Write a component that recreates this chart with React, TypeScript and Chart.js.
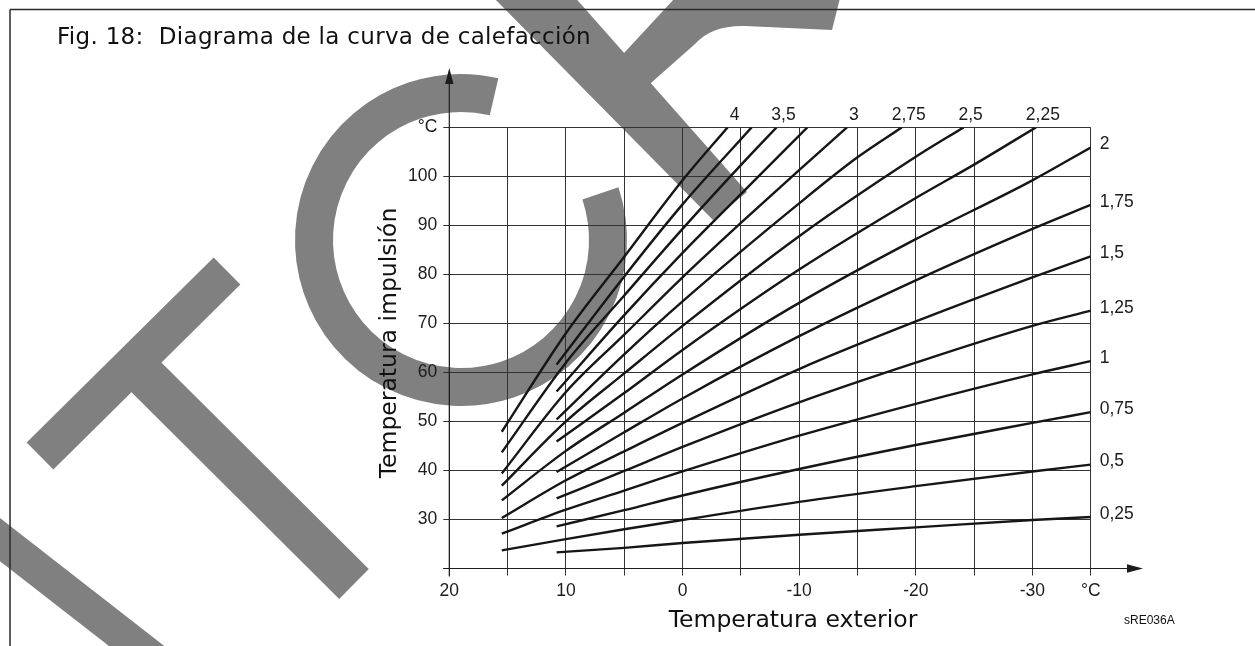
import React, { useEffect, useRef } from 'react';
import { Chart, registerables } from 'chart.js';

Chart.register(...registerables);

// ---- Data (outdoor temperature °C, flow temperature °C) ----
const slopes = [0.25, 0.5, 0.75, 1, 1.25, 1.5, 1.75, 2, 2.25, 2.5, 2.75, 3, 3.25, 3.5, 3.75, 4];
const topLabelled = [4, 3.5, 3, 2.75, 2.5, 2.25];
const rightLabelled = [2, 1.75, 1.5, 1.25, 1, 0.75, 0.5, 0.25];

const curve_0_25 = [[10.8, 23.3], [5, 24.2], [0, 25.2], [-10, 26.9], [-20, 28.4], [-30, 29.9], [-35, 30.5]];
const curve_0_5 = [[15.5, 23.7], [10, 26.0], [5, 28.0], [0, 29.9], [-10, 33.6], [-20, 36.8], [-30, 39.8], [-35, 41.2]];
const curve_0_75 = [[10.8, 28.6], [5, 31.9], [0, 34.9], [-10, 40.3], [-20, 45.2], [-30, 49.7], [-35, 51.9]];
const curve_1 = [[15.5, 27.1], [10, 32.0], [5, 35.9], [0, 39.8], [-10, 47.1], [-20, 53.6], [-30, 59.6], [-35, 62.3]];
const curve_1_25 = [[10.8, 34.3], [5, 39.9], [0, 44.8], [-10, 53.9], [-20, 62.0], [-30, 69.5], [-35, 72.6]];
const curve_1_5 = [[15.5, 30.3], [10, 38.0], [5, 43.9], [0, 49.7], [-10, 60.7], [-20, 70.4], [-30, 79.4], [-35, 83.7]];
const curve_1_75 = [[10.8, 39.7], [5, 47.8], [0, 54.7], [-10, 67.4], [-20, 78.8], [-30, 89.3], [-35, 94.2]];
const curve_2 = [[15.5, 33.9], [10, 44.0], [5, 51.8], [0, 59.6], [-10, 74.2], [-20, 87.2], [-30, 99.2], [-35, 105.9]];
const curve_2_25 = [[10.8, 45.9], [5, 55.8], [0, 64.6], [-10, 81.0], [-20, 95.6], [-25, 102.4], [-30.3, 110]];
const curve_2_5 = [[15.5, 36.9], [10, 50.0], [5, 59.8], [0, 69.5], [-10, 87.8], [-20, 104.0], [-24.1, 110]];
const curve_2_75 = [[10.8, 50.4], [5, 63.7], [0, 74.5], [-10, 94.5], [-15, 103.9], [-18.8, 110]];
const curve_3 = [[15.5, 39.4], [10, 56.0], [5, 67.7], [0, 79.4], [-5, 90.5], [-10, 101.3], [-14.1, 110]];
const curve_3_25 = [[10.8, 56.1], [5, 71.7], [0, 84.4], [-5, 96.4], [-10.7, 110]];
const curve_3_5 = [[15.5, 43.7], [10, 62.0], [5, 75.7], [0, 89.3], [-5, 102.3], [-8.06, 110]];
const curve_3_75 = [[10.8, 61.6], [5, 79.6], [0, 94.3], [-5.92, 110]];
const curve_4 = [[15.5, 47.9], [10, 68.0], [5, 83.6], [0, 99.2], [-3.86, 110]];

const curves = [
  curve_0_25, curve_0_5, curve_0_75, curve_1, curve_1_25, curve_1_5, curve_1_75, curve_2,
  curve_2_25, curve_2_5, curve_2_75, curve_3, curve_3_25, curve_3_5, curve_3_75, curve_4,
];

const xMin = -35;
const xMax = 20;
const yMin = 20;
const yMax = 110;

const TITLE = 'Fig. 18:  Diagrama de la curva de calefacción';
const Y_TITLE = 'Temperatura impulsión';
const X_TITLE = 'Temperatura exterior';
const CODE = 'sRE036A';

const fmt = (v: number) => String(v).replace('.', ',');

const TICK_FONT = '17.5px "Liberation Sans", Arial, sans-serif';
const INK = '#1c1c1c';

const watermarkPlugin = {
  id: 'watermark',
  beforeDraw(chart: any) {
    const ctx = chart.ctx as CanvasRenderingContext2D;
    ctx.save();
    ctx.fillStyle = '#ffffff';
    ctx.fillRect(0, 0, chart.width, chart.height);
    ctx.strokeStyle = '#808080';
    ctx.fillStyle = '#808080';
    ctx.lineCap = 'butt';
    // T crossbar
    ctx.lineWidth = 38;
    ctx.beginPath();
    ctx.moveTo(40, 456);
    ctx.lineTo(227, 271);
    ctx.stroke();
    // T stem
    ctx.lineWidth = 42;
    ctx.beginPath();
    ctx.moveTo(133, 364);
    ctx.lineTo(354, 584);
    ctx.stroke();
    // bottom-left stripe
    ctx.lineWidth = 34;
    ctx.beginPath();
    ctx.moveTo(-20, 524);
    ctx.lineTo(170, 672);
    ctx.stroke();
    // C ring
    ctx.lineWidth = 38;
    ctx.beginPath();
    ctx.arc(461, 240, 147, (-18.5 * Math.PI) / 180, (283 * Math.PI) / 180, false);
    ctx.stroke();
    // diagonal band (top)
    ctx.beginPath();
    ctx.moveTo(490, -6);
    ctx.lineTo(572, -6);
    ctx.lineTo(747, 192);
    ctx.lineTo(713, 220);
    ctx.closePath();
    ctx.fill();
    // branch + arch
    ctx.beginPath();
    ctx.moveTo(612, 66);
    ctx.lineTo(675, -2);
    ctx.lineTo(840, -2);
    ctx.lineTo(832, 30);
    ctx.lineTo(745, 26);
    ctx.quadraticCurveTo(712, 25, 695, 44);
    ctx.lineTo(643, 90);
    ctx.closePath();
    ctx.fill();
    ctx.restore();
  },
};

const decorPlugin = {
  id: 'decor',
  afterDraw(chart: any) {
    const ctx = chart.ctx as CanvasRenderingContext2D;
    const { left, top, bottom } = chart.chartArea;
    const xs = chart.scales.x;
    const ys = chart.scales.y;
    ctx.save();

    // frame
    ctx.strokeStyle = '#2a2a2a';
    ctx.lineWidth = 1.5;
    ctx.beginPath();
    ctx.moveTo(10, 9.5);
    ctx.lineTo(chart.width, 9.5);
    ctx.moveTo(10, 9.5);
    ctx.lineTo(10, chart.height);
    ctx.stroke();

    // axes with arrows
    ctx.strokeStyle = INK;
    ctx.fillStyle = INK;
    ctx.lineWidth = 1.2;
    ctx.beginPath();
    ctx.moveTo(left, bottom + 8);
    ctx.lineTo(left, 82);
    ctx.moveTo(left - 6, bottom);
    ctx.lineTo(1128, bottom);
    ctx.stroke();
    ctx.beginPath();
    ctx.moveTo(left, 68);
    ctx.lineTo(left - 4.2, 84);
    ctx.lineTo(left + 4.2, 84);
    ctx.closePath();
    ctx.fill();
    ctx.beginPath();
    ctx.moveTo(1143, bottom);
    ctx.lineTo(1127, bottom - 4.2);
    ctx.lineTo(1127, bottom + 4.2);
    ctx.closePath();
    ctx.fill();

    // title
    ctx.fillStyle = '#111';
    ctx.font = '23px "DejaVu Sans", sans-serif';
    (ctx as any).letterSpacing = '0.3px';
    ctx.textAlign = 'left';
    ctx.textBaseline = 'alphabetic';
    ctx.fillText(TITLE, 57, 44);
    (ctx as any).letterSpacing = '0px';

    // axis titles
    ctx.font = '23.5px "DejaVu Sans", sans-serif';
    ctx.textAlign = 'center';
    ctx.textBaseline = 'middle';
    ctx.fillText(X_TITLE, 793, 621);
    ctx.save();
    ctx.translate(390, 343);
    ctx.rotate(-Math.PI / 2);
    ctx.fillText(Y_TITLE, 0, 0);
    ctx.restore();

    // code
    ctx.font = '12px "Liberation Sans", Arial, sans-serif';
    ctx.textAlign = 'left';
    ctx.fillText(CODE, 1124, 621);

    // curve labels
    ctx.font = TICK_FONT;
    ctx.fillStyle = INK;
    slopes.forEach((s, i) => {
      const pts = curves[i];
      const last = pts[pts.length - 1];
      const px = xs.getPixelForValue(last[0]);
      const py = ys.getPixelForValue(last[1]);
      if (topLabelled.includes(s)) {
        ctx.textAlign = 'center';
        ctx.textBaseline = 'middle';
        ctx.fillText(fmt(s), px + 7, top - 12);
      } else if (rightLabelled.includes(s)) {
        ctx.textAlign = 'left';
        ctx.textBaseline = 'middle';
        ctx.fillText(fmt(s), px + 9, py - 3);
      }
    });
    ctx.restore();
  },
};

export default function App() {
  const ref = useRef<HTMLCanvasElement | null>(null);
  useEffect(() => {
    if (!ref.current) return;
    const chart = new Chart(ref.current, {
      type: 'line',
      data: {
        datasets: curves.map((pts, i) => ({
          label: fmt(slopes[i]),
          data: pts.map(([x, y]) => ({ x, y })),
          borderColor: '#161616',
          borderWidth: 2.4,
          pointRadius: 0,
          fill: false,
          cubicInterpolationMode: 'monotone' as const,
        })),
      },
      options: {
        responsive: false,
        maintainAspectRatio: false,
        animation: false,
        devicePixelRatio: 1,
        layout: { padding: { left: 389.3, right: 164.3, top: 127.4, bottom: 37.5 } },
        plugins: { legend: { display: false }, tooltip: { enabled: false }, title: { display: false } },
        scales: {
          x: {
            type: 'linear',
            reverse: true,
            min: xMin,
            max: xMax,
            border: { display: false },
            grid: { color: '#333333', lineWidth: 1, tickLength: 7, drawTicks: true, tickColor: '#333333' },
            ticks: {
              stepSize: 5,
              autoSkip: false,
              maxRotation: 0,
              padding: 5,
              color: INK,
              font: { family: '"Liberation Sans", Arial, sans-serif', size: 17.5 },
              callback: (v: any) => (v === xMin ? '°C' : v % 10 === 0 ? String(v) : ''),
            },
            afterFit: (s: any) => {
              s.height = 40;
            },
          },
          y: {
            type: 'linear',
            min: yMin,
            max: yMax,
            border: { display: false },
            grid: { color: '#333333', lineWidth: 1, tickLength: 6, drawTicks: true, tickColor: '#333333' },
            ticks: {
              stepSize: 10,
              autoSkip: false,
              padding: 6,
              color: INK,
              font: { family: '"Liberation Sans", Arial, sans-serif', size: 17.5 },
              callback: (v: any) => (v === yMax ? '°C' : v === yMin ? '' : String(v)),
            },
            afterFit: (s: any) => {
              s.width = 60;
            },
          },
        },
      },
      plugins: [watermarkPlugin, decorPlugin],
    });
    return () => chart.destroy();
  }, []);

  return (
    <div style={{ position: 'fixed', left: 0, top: 0, width: 1255, height: 646, background: '#fff' }}>
      <canvas ref={ref} width={1255} height={646} style={{ display: 'block', width: 1255, height: 646 }} />
    </div>
  );
}
